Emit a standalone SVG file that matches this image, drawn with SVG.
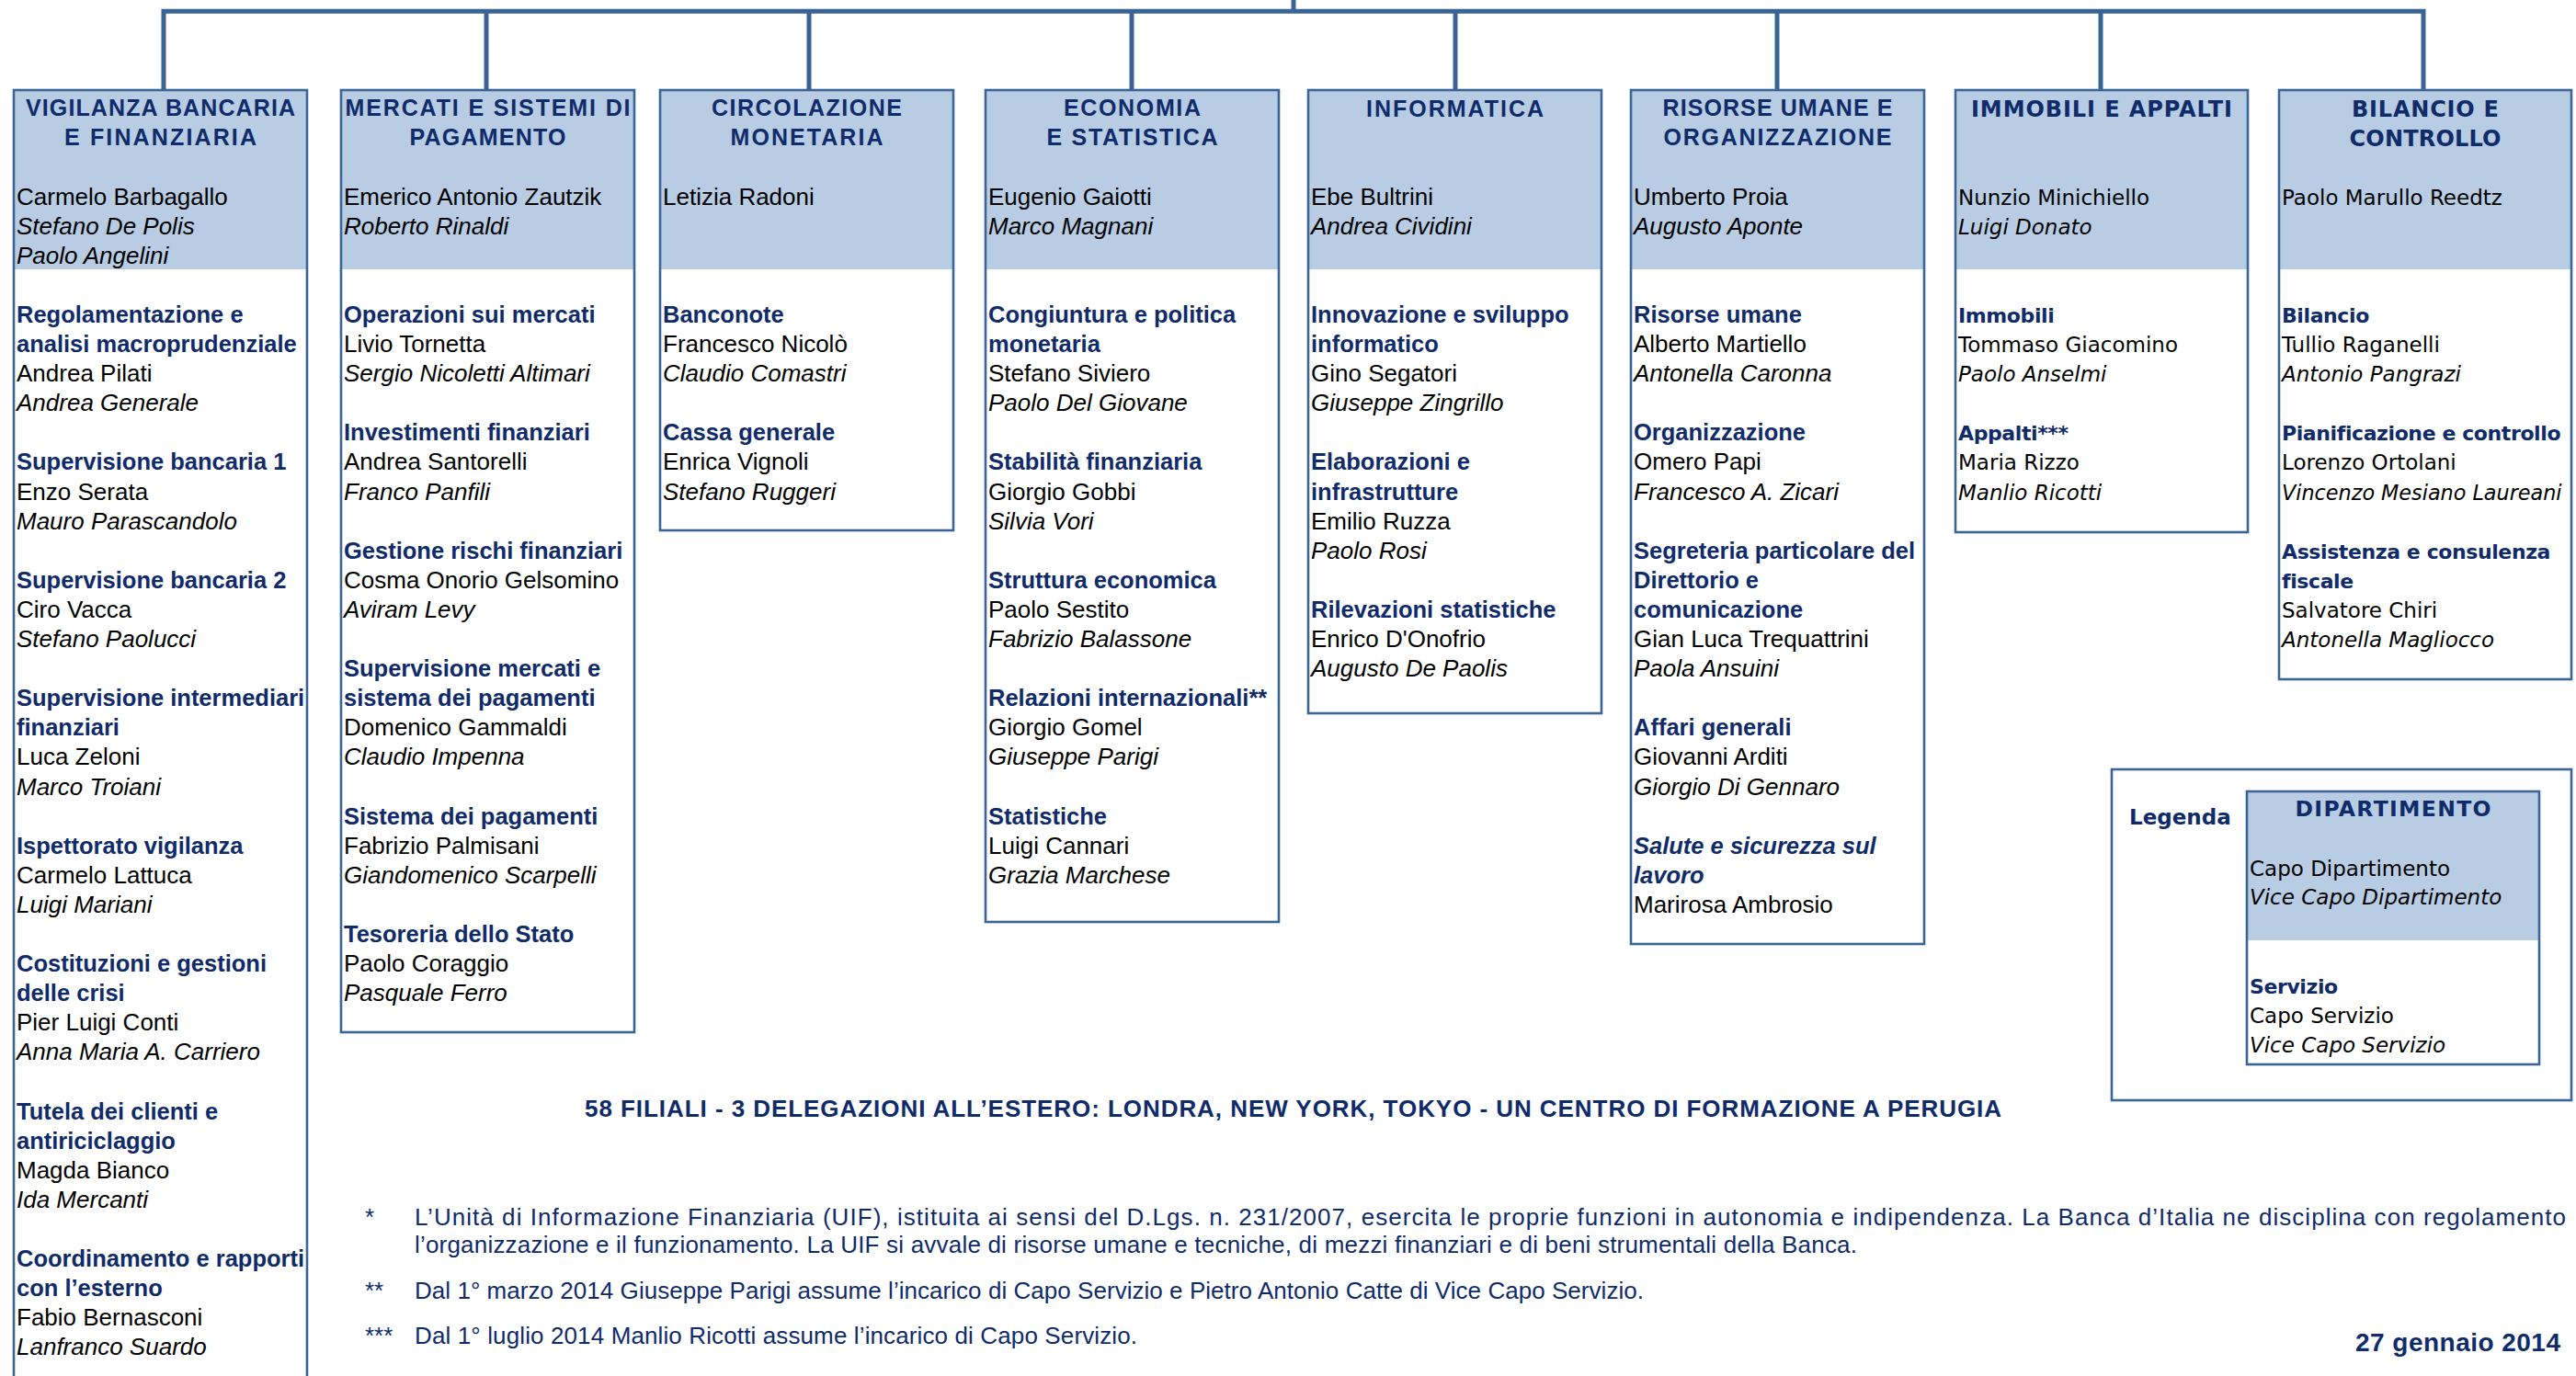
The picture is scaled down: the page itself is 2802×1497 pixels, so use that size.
<svg xmlns="http://www.w3.org/2000/svg" width="2802" height="1497" viewBox="0 0 2802 1497">
<style>
.bg{fill:#FFFFFF}
.hdr{fill:#B8CCE4}
.frame{fill:none;stroke:#3C6597;stroke-width:2.6}
.conn{fill:none;stroke:#3A6496;stroke-width:5}
.n{font-family:"Liberation Sans",Arial,sans-serif;font-size:26px;fill:#000000}
.d{font-family:"Liberation Sans",Arial,sans-serif;font-size:26px;font-style:italic;fill:#000000}
.s{font-family:"Liberation Sans",Arial,sans-serif;font-size:25.5px;font-weight:bold;fill:#102B6A}
.si{font-family:"Liberation Sans",Arial,sans-serif;font-size:25.5px;font-weight:bold;font-style:italic;fill:#102B6A}
.h{font-family:"Liberation Sans",Arial,sans-serif;font-size:25px;font-weight:bold;fill:#102B6A;text-anchor:middle}
.vn{font-family:"DejaVu Sans",Verdana,sans-serif;font-size:23px;fill:#000000}
.vd{font-family:"DejaVu Sans",Verdana,sans-serif;font-size:23px;font-style:italic;fill:#000000}
.vs{font-family:"DejaVu Sans",Verdana,sans-serif;font-size:22px;font-weight:bold;letter-spacing:-0.4px;fill:#102B6A}
.vh{font-family:"DejaVu Sans",Verdana,sans-serif;font-size:24px;font-weight:bold;fill:#102B6A;text-anchor:middle}
.f{font-family:"Liberation Sans",Arial,sans-serif;font-size:26px;fill:#102B6A}
.fb{font-family:"Liberation Sans",Arial,sans-serif;font-size:26px;font-weight:bold;fill:#102B6A}
</style>

<g id="connectors">
  <line class="conn" x1="1407" y1="0" x2="1407" y2="12.3"/>
  <path class="conn" d="M178,98 V12.3 H2636 V98"/>
  <line class="conn" x1="529" y1="12.3" x2="529" y2="98"/>
  <line class="conn" x1="880" y1="12.3" x2="880" y2="98"/>
  <line class="conn" x1="1231" y1="12.3" x2="1231" y2="98"/>
  <line class="conn" x1="1583" y1="12.3" x2="1583" y2="98"/>
  <line class="conn" x1="1933" y1="12.3" x2="1933" y2="98"/>
  <line class="conn" x1="2285" y1="12.3" x2="2285" y2="98"/>
</g>

<g id="vigilanza">
  <rect class="bg" x="15" y="98" width="319" height="1430"/>
  <rect class="hdr" x="16" y="99" width="317" height="194"/>
  <rect class="frame" x="15" y="98" width="319" height="1430"/>
  <text class="h" x="174.5" y="126.2" textLength="293" lengthAdjust="spacing">VIGILANZA BANCARIA</text>
  <text class="h" x="174.5" y="158.3" textLength="209" lengthAdjust="spacing">E FINANZIARIA</text>
  <text class="n" x="18" y="222.5">Carmelo Barbagallo</text>
  <text class="d" x="18" y="254.6">Stefano De Polis</text>
  <text class="d" x="18" y="286.7">Paolo Angelini</text>
  <text class="s" x="18" y="350.9">Regolamentazione e</text>
  <text class="s" x="18" y="383.0">analisi macroprudenziale</text>
  <text class="n" x="18" y="415.1">Andrea Pilati</text>
  <text class="d" x="18" y="447.2">Andrea Generale</text>
  <text class="s" x="18" y="511.4">Supervisione bancaria 1</text>
  <text class="n" x="18" y="543.5">Enzo Serata</text>
  <text class="d" x="18" y="575.6">Mauro Parascandolo</text>
  <text class="s" x="18" y="639.8">Supervisione bancaria 2</text>
  <text class="n" x="18" y="671.9">Ciro Vacca</text>
  <text class="d" x="18" y="704.0">Stefano Paolucci</text>
  <text class="s" x="18" y="768.2">Supervisione intermediari</text>
  <text class="s" x="18" y="800.3">finanziari</text>
  <text class="n" x="18" y="832.4">Luca Zeloni</text>
  <text class="d" x="18" y="864.5">Marco Troiani</text>
  <text class="s" x="18" y="928.7">Ispettorato vigilanza</text>
  <text class="n" x="18" y="960.8">Carmelo Lattuca</text>
  <text class="d" x="18" y="992.9">Luigi Mariani</text>
  <text class="s" x="18" y="1057.1">Costituzioni e gestioni</text>
  <text class="s" x="18" y="1089.2">delle crisi</text>
  <text class="n" x="18" y="1121.3">Pier Luigi Conti</text>
  <text class="d" x="18" y="1153.4">Anna Maria A. Carriero</text>
  <text class="s" x="18" y="1217.6">Tutela dei clienti e</text>
  <text class="s" x="18" y="1249.7">antiriciclaggio</text>
  <text class="n" x="18" y="1281.8">Magda Bianco</text>
  <text class="d" x="18" y="1313.9">Ida Mercanti</text>
  <text class="s" x="18" y="1378.1">Coordinamento e rapporti</text>
  <text class="s" x="18" y="1410.2">con l’esterno</text>
  <text class="n" x="18" y="1442.3">Fabio Bernasconi</text>
  <text class="d" x="18" y="1474.4">Lanfranco Suardo</text>
</g>

<g id="mercati">
  <rect class="bg" x="371" y="98" width="319" height="1025"/>
  <rect class="hdr" x="372" y="99" width="317" height="194"/>
  <rect class="frame" x="371" y="98" width="319" height="1025"/>
  <text class="h" x="530.5" y="126.2" textLength="310" lengthAdjust="spacing">MERCATI E SISTEMI DI</text>
  <text class="h" x="530.5" y="158.3" textLength="170" lengthAdjust="spacing">PAGAMENTO</text>
  <text class="n" x="374" y="222.5">Emerico Antonio Zautzik</text>
  <text class="d" x="374" y="254.6">Roberto Rinaldi</text>
  <text class="s" x="374" y="350.9">Operazioni sui mercati</text>
  <text class="n" x="374" y="383.0">Livio Tornetta</text>
  <text class="d" x="374" y="415.1">Sergio Nicoletti Altimari</text>
  <text class="s" x="374" y="479.3">Investimenti finanziari</text>
  <text class="n" x="374" y="511.4">Andrea Santorelli</text>
  <text class="d" x="374" y="543.5">Franco Panfili</text>
  <text class="s" x="374" y="607.7">Gestione rischi finanziari</text>
  <text class="n" x="374" y="639.8">Cosma Onorio Gelsomino</text>
  <text class="d" x="374" y="671.9">Aviram Levy</text>
  <text class="s" x="374" y="736.1">Supervisione mercati e</text>
  <text class="s" x="374" y="768.2">sistema dei pagamenti</text>
  <text class="n" x="374" y="800.3">Domenico Gammaldi</text>
  <text class="d" x="374" y="832.4">Claudio Impenna</text>
  <text class="s" x="374" y="896.6">Sistema dei pagamenti</text>
  <text class="n" x="374" y="928.7">Fabrizio Palmisani</text>
  <text class="d" x="374" y="960.8">Giandomenico Scarpelli</text>
  <text class="s" x="374" y="1025.0">Tesoreria dello Stato</text>
  <text class="n" x="374" y="1057.1">Paolo Coraggio</text>
  <text class="d" x="374" y="1089.2">Pasquale Ferro</text>
</g>

<g id="circolazione">
  <rect class="bg" x="718" y="98" width="319" height="479"/>
  <rect class="hdr" x="719" y="99" width="317" height="194"/>
  <rect class="frame" x="718" y="98" width="319" height="479"/>
  <text class="h" x="877.5" y="126.2" textLength="207" lengthAdjust="spacing">CIRCOLAZIONE</text>
  <text class="h" x="877.5" y="158.3" textLength="166" lengthAdjust="spacing">MONETARIA</text>
  <text class="n" x="721" y="222.5">Letizia Radoni</text>
  <text class="s" x="721" y="350.9">Banconote</text>
  <text class="n" x="721" y="383.0">Francesco Nicolò</text>
  <text class="d" x="721" y="415.1">Claudio Comastri</text>
  <text class="s" x="721" y="479.3">Cassa generale</text>
  <text class="n" x="721" y="511.4">Enrica Vignoli</text>
  <text class="d" x="721" y="543.5">Stefano Ruggeri</text>
</g>

<g id="economia">
  <rect class="bg" x="1072" y="98" width="319" height="905"/>
  <rect class="hdr" x="1073" y="99" width="317" height="194"/>
  <rect class="frame" x="1072" y="98" width="319" height="905"/>
  <text class="h" x="1231.5" y="126.2" textLength="149" lengthAdjust="spacing">ECONOMIA</text>
  <text class="h" x="1231.5" y="158.3" textLength="186" lengthAdjust="spacing">E STATISTICA</text>
  <text class="n" x="1075" y="222.5">Eugenio Gaiotti</text>
  <text class="d" x="1075" y="254.6">Marco Magnani</text>
  <text class="s" x="1075" y="350.9">Congiuntura e politica</text>
  <text class="s" x="1075" y="383.0">monetaria</text>
  <text class="n" x="1075" y="415.1">Stefano Siviero</text>
  <text class="d" x="1075" y="447.2">Paolo Del Giovane</text>
  <text class="s" x="1075" y="511.4">Stabilità finanziaria</text>
  <text class="n" x="1075" y="543.5">Giorgio Gobbi</text>
  <text class="d" x="1075" y="575.6">Silvia Vori</text>
  <text class="s" x="1075" y="639.8">Struttura economica</text>
  <text class="n" x="1075" y="671.9">Paolo Sestito</text>
  <text class="d" x="1075" y="704.0">Fabrizio Balassone</text>
  <text class="s" x="1075" y="768.2">Relazioni internazionali**</text>
  <text class="n" x="1075" y="800.3">Giorgio Gomel</text>
  <text class="d" x="1075" y="832.4">Giuseppe Parigi</text>
  <text class="s" x="1075" y="896.6">Statistiche</text>
  <text class="n" x="1075" y="928.7">Luigi Cannari</text>
  <text class="d" x="1075" y="960.8">Grazia Marchese</text>
</g>

<g id="informatica">
  <rect class="bg" x="1423" y="98" width="319" height="678"/>
  <rect class="hdr" x="1424" y="99" width="317" height="194"/>
  <rect class="frame" x="1423" y="98" width="319" height="678"/>
  <text class="h" x="1582.5" y="127" textLength="193" lengthAdjust="spacing">INFORMATICA</text>
  <text class="n" x="1426" y="222.5">Ebe Bultrini</text>
  <text class="d" x="1426" y="254.6">Andrea Cividini</text>
  <text class="s" x="1426" y="350.9">Innovazione e sviluppo</text>
  <text class="s" x="1426" y="383.0">informatico</text>
  <text class="n" x="1426" y="415.1">Gino Segatori</text>
  <text class="d" x="1426" y="447.2">Giuseppe Zingrillo</text>
  <text class="s" x="1426" y="511.4">Elaborazioni e</text>
  <text class="s" x="1426" y="543.5">infrastrutture</text>
  <text class="n" x="1426" y="575.6">Emilio Ruzza</text>
  <text class="d" x="1426" y="607.7">Paolo Rosi</text>
  <text class="s" x="1426" y="671.9">Rilevazioni statistiche</text>
  <text class="n" x="1426" y="704.0">Enrico D'Onofrio</text>
  <text class="d" x="1426" y="736.1">Augusto De Paolis</text>
</g>

<g id="risorse">
  <rect class="bg" x="1774" y="98" width="319" height="929"/>
  <rect class="hdr" x="1775" y="99" width="317" height="194"/>
  <rect class="frame" x="1774" y="98" width="319" height="929"/>
  <text class="h" x="1933.5" y="126.2" textLength="250" lengthAdjust="spacing">RISORSE UMANE E</text>
  <text class="h" x="1933.5" y="158.3" textLength="248" lengthAdjust="spacing">ORGANIZZAZIONE</text>
  <text class="n" x="1777" y="222.5">Umberto Proia</text>
  <text class="d" x="1777" y="254.6">Augusto Aponte</text>
  <text class="s" x="1777" y="350.9">Risorse umane</text>
  <text class="n" x="1777" y="383.0">Alberto Martiello</text>
  <text class="d" x="1777" y="415.1">Antonella Caronna</text>
  <text class="s" x="1777" y="479.3">Organizzazione</text>
  <text class="n" x="1777" y="511.4">Omero Papi</text>
  <text class="d" x="1777" y="543.5">Francesco A. Zicari</text>
  <text class="s" x="1777" y="607.7">Segreteria particolare del</text>
  <text class="s" x="1777" y="639.8">Direttorio e</text>
  <text class="s" x="1777" y="671.9">comunicazione</text>
  <text class="n" x="1777" y="704.0">Gian Luca Trequattrini</text>
  <text class="d" x="1777" y="736.1">Paola Ansuini</text>
  <text class="s" x="1777" y="800.3">Affari generali</text>
  <text class="n" x="1777" y="832.4">Giovanni Arditi</text>
  <text class="d" x="1777" y="864.5">Giorgio Di Gennaro</text>
  <text class="si" x="1777" y="928.7">Salute e sicurezza sul</text>
  <text class="si" x="1777" y="960.8">lavoro</text>
  <text class="n" x="1777" y="992.9">Marirosa Ambrosio</text>
</g>

<g id="immobili">
  <rect class="bg" x="2127" y="98" width="318" height="481"/>
  <rect class="hdr" x="2128" y="99" width="316" height="194"/>
  <rect class="frame" x="2127" y="98" width="318" height="481"/>
  <text class="vh" x="2286" y="127" textLength="284" lengthAdjust="spacing">IMMOBILI E APPALTI</text>
  <text class="vn" x="2130" y="222.5">Nunzio Minichiello</text>
  <text class="vd" x="2130" y="254.6">Luigi Donato</text>
  <text class="vs" x="2130" y="350.9">Immobili</text>
  <text class="vn" x="2130" y="383.0">Tommaso Giacomino</text>
  <text class="vd" x="2130" y="415.1">Paolo Anselmi</text>
  <text class="vs" x="2130" y="479.3">Appalti***</text>
  <text class="vn" x="2130" y="511.4">Maria Rizzo</text>
  <text class="vd" x="2130" y="543.5">Manlio Ricotti</text>
</g>

<g id="bilancio">
  <rect class="bg" x="2479" y="98" width="318" height="641"/>
  <rect class="hdr" x="2480" y="99" width="316" height="194"/>
  <rect class="frame" x="2479" y="98" width="318" height="641"/>
  <text class="vh" x="2638" y="126.5" textLength="160" lengthAdjust="spacing">BILANCIO E</text>
  <text class="vh" x="2638" y="158.5" textLength="165" lengthAdjust="spacing">CONTROLLO</text>
  <text class="vn" x="2482" y="222.5">Paolo Marullo Reedtz</text>
  <text class="vs" x="2482" y="350.9">Bilancio</text>
  <text class="vn" x="2482" y="383.0">Tullio Raganelli</text>
  <text class="vd" x="2482" y="415.1">Antonio Pangrazi</text>
  <text class="vs" x="2482" y="479.3">Pianificazione e controllo</text>
  <text class="vn" x="2482" y="511.4">Lorenzo Ortolani</text>
  <text class="vd" x="2482" y="543.5" style="font-size:22.3px">Vincenzo Mesiano Laureani</text>
  <text class="vs" x="2482" y="607.7">Assistenza e consulenza</text>
  <text class="vs" x="2482" y="639.8">fiscale</text>
  <text class="vn" x="2482" y="671.9">Salvatore Chiri</text>
  <text class="vd" x="2482" y="704.0">Antonella Magliocco</text>
</g>

<g id="legenda">
  <rect class="bg" x="2297" y="837" width="500" height="360"/>
  <rect class="frame" x="2297" y="837" width="500" height="360"/>
  <text class="vs" x="2316" y="897" style="font-size:23px;letter-spacing:0">Legenda</text>
  <rect class="bg" x="2444" y="861" width="318" height="297"/>
  <rect class="hdr" x="2445" y="862" width="316" height="161"/>
  <rect class="frame" x="2444" y="861" width="318" height="297"/>
  <text class="vh" x="2603" y="888" style="font-size:23.5px" textLength="213" lengthAdjust="spacing">DIPARTIMENTO</text>
  <text class="vn" x="2447" y="953">Capo Dipartimento</text>
  <text class="vd" x="2447" y="984">Vice Capo Dipartimento</text>
  <text class="vs" x="2447" y="1081">Servizio</text>
  <text class="vn" x="2447" y="1113">Capo Servizio</text>
  <text class="vd" x="2447" y="1145">Vice Capo Servizio</text>
</g>

<g id="note">
  <text class="fb" x="636" y="1215" textLength="1541" lengthAdjust="spacing">58 FILIALI - 3 DELEGAZIONI ALL’ESTERO: LONDRA, NEW YORK, TOKYO - UN CENTRO DI FORMAZIONE A PERUGIA</text>
  <text class="f" x="397" y="1333">*</text>
  <text class="f" x="451" y="1333" textLength="2340" lengthAdjust="spacing">L’Unità di Informazione Finanziaria (UIF), istituita ai sensi del D.Lgs. n. 231/2007, esercita le proprie funzioni in autonomia e indipendenza. La Banca d’Italia ne disciplina con regolamento</text>
  <text class="f" x="451" y="1363" textLength="1569" lengthAdjust="spacing">l’organizzazione e il funzionamento. La UIF si avvale di risorse umane e tecniche, di mezzi finanziari e di beni strumentali della Banca.</text>
  <text class="f" x="397" y="1413">**</text>
  <text class="f" x="451" y="1413" textLength="1337" lengthAdjust="spacing">Dal 1° marzo 2014 Giuseppe Parigi assume l’incarico di Capo Servizio e Pietro Antonio Catte di Vice Capo Servizio.</text>
  <text class="f" x="397" y="1462">***</text>
  <text class="f" x="451" y="1462" textLength="786" lengthAdjust="spacing">Dal 1° luglio 2014 Manlio Ricotti assume l’incarico di Capo Servizio.</text>
  <text class="fb" x="2562" y="1470" textLength="223" lengthAdjust="spacing" style="font-size:28px">27 gennaio 2014</text>
</g>
</svg>
